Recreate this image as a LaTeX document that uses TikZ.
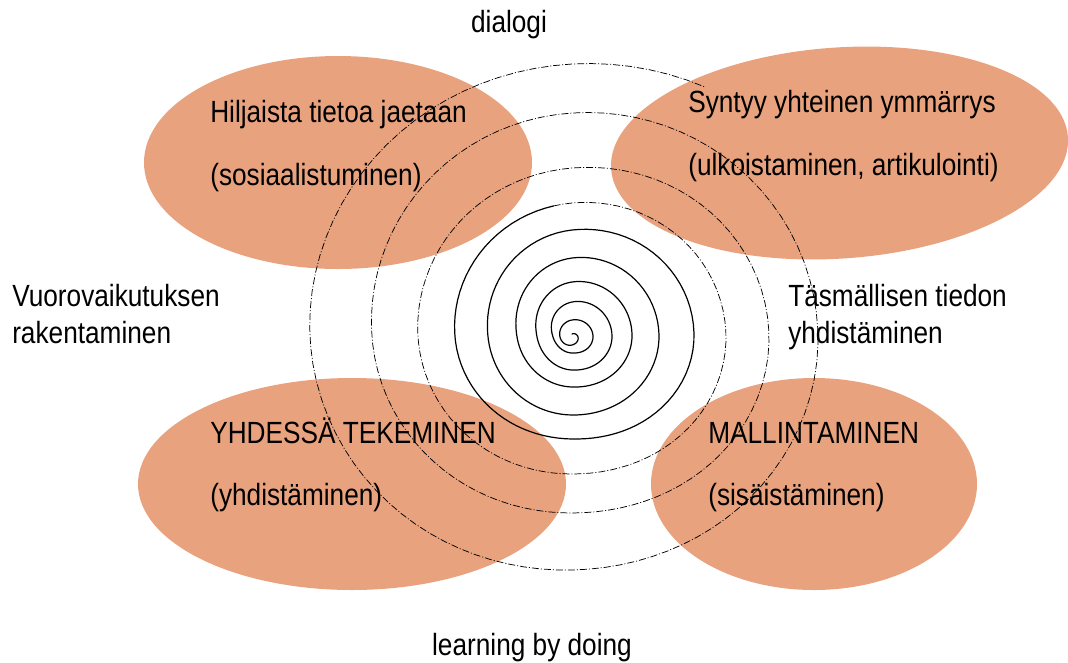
\documentclass[tikz,border=0pt]{standalone}
\usepackage{fontspec}
\setmainfont{Liberation Sans}[FakeStretch=0.855]
\usetikzlibrary{shapes.geometric}
\definecolor{petal}{RGB}{233,162,126}

% radii of the spiral at every quarter turn (clockwise, from the centre outwards)
\def\sprad{{2,3,6,8,12,17,21,16,19,35,40,33,35,55,60,50,55,79,87,78,84,107,122,102,117,134,154,137,154,169,197,176,200,224,246,233,262,273,310,330}}

\begin{document}
\begin{tikzpicture}[x=0.75pt,y=-0.75pt,
  petal/.style={ellipse, fill=petal, draw=none, inner sep=0pt},
  lbl/.style={anchor=base west, inner sep=0pt, font=\fontsize{23}{27.75}\selectfont},
  clbl/.style={anchor=base, inner sep=0pt, font=\fontsize{23}{27.75}\selectfont},
  spiralsolid/.style={line width=0.9pt, line join=round, line cap=round},
  spiraldash/.style={line width=0.55pt, dash pattern=on 5.25pt off 1.5pt on 0.75pt off 1.5pt},
  declare function={
    spq(\a)=int(\a/90)+1;
    spf(\a)=\a/90-int(\a/90);
    spcr(\ua,\ub,\uc,\ud,\uf)=0.5*(2*\ub+(\uc-\ua)*\uf+(2*\ua-5*\ub+4*\uc-\ud)*\uf*\uf+(3*\ub-\ua-3*\uc+\ud)*\uf*\uf*\uf);
    spr(\a)=spcr(\sprad[spq(\a)-1],\sprad[spq(\a)],\sprad[spq(\a)+1],\sprad[spq(\a)+2],spf(\a));
  }]
  \useasboundingbox (0,0) rectangle (1068,662);

  % the four phases
  \node[petal, minimum width=291pt, minimum height=159.75pt] (soc) at (338,162.5) {};
  \node[petal, minimum width=343.5pt, minimum height=158.25pt, rotate=4] (ext) at (839.5,153) {};
  \node[petal, minimum width=321pt, minimum height=159pt] (comb) at (352,484) {};
  \node[petal, minimum width=244.5pt, minimum height=159pt] (int) at (814,484) {};

  % labels inside the phases
  \node[lbl] (socA) at (210,122) {Hiljaista tietoa jaetaan};
  \node[lbl] (socB) at (210,185) {(sosiaalistuminen)};
  \node[lbl] (extA) at (688,112) {Syntyy yhteinen ymmärrys};
  \node[lbl] (extB) at (688,175) {(ulkoistaminen, artikulointi)};
  \node[lbl] (combA) at (210,443) {YHDESSÄ TEKEMINEN};
  \node[lbl] (combB) at (210,505) {(yhdistäminen)};
  \node[lbl] (intA) at (708,443) {MALLINTAMINEN};
  \node[lbl] (intB) at (708,505) {(sisäistäminen)};

  % labels round the outside
  \node[clbl] (top) at (509,32) {dialogi};
  \node[clbl] (bottom) at (532,655) {learning by doing};
  \node[lbl] (leftA) at (12,306) {Vuorovaikutuksen};
  \node[lbl] (leftB) at (12,343) {rakentaminen};
  \node[lbl] (rightA) at (788,306) {Täsmällisen tiedon};
  \node[lbl] (rightB) at (788,343) {yhdistäminen};

  % the spiral: solid core, dash-dotted outer turns
  \draw[spiralsolid] plot[variable=\a, samples at={0,4,...,2152}]
    ({572+spr(\a)*sin(\a)},{337-spr(\a)*cos(\a)});
  \draw[spiraldash] plot[variable=\a, samples at={2152,2156,...,3268}]
    ({572+spr(\a)*sin(\a)},{337-spr(\a)*cos(\a)});
\end{tikzpicture}
\end{document}
